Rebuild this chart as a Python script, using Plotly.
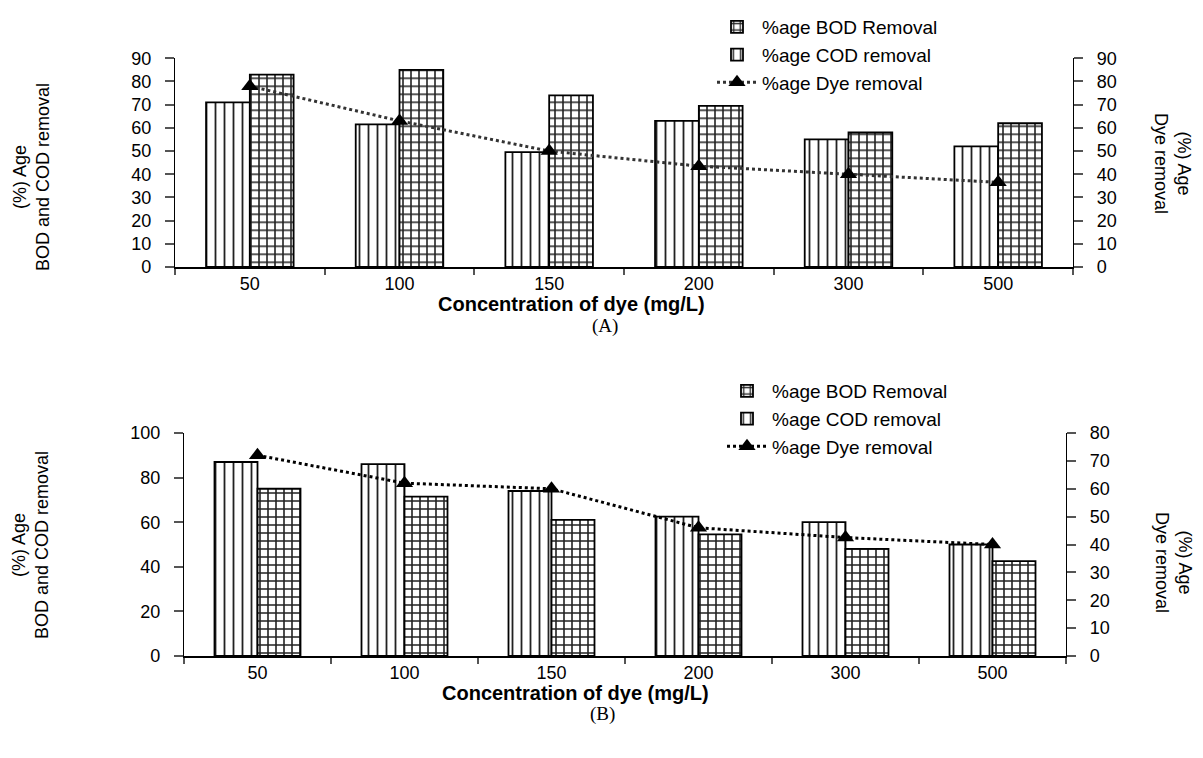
import plotly.graph_objects as go

# ---------------- data ----------------
conc = ["50", "100", "150", "200", "300", "500"]

# Panel (A)
a_cod = [71, 61.5, 49.5, 63, 55, 52]
a_bod = [83, 85, 74, 69.5, 58, 62]
a_dye = [78, 63, 50, 43.5, 40, 36.5]

# Panel (B)
b_cod = [87, 86, 74, 62.5, 60, 50]
b_bod = [75, 71.5, 61, 54.5, 48, 42.5]
b_dye = [72, 62, 60, 46, 42.5, 40]

names = ["%age BOD Removal", "%age COD removal", "%age Dye removal"]

FONT = "Arial, Liberation Sans, sans-serif"
# the page body has an 8px margin; size the figure so the page fills the window
OFF = 8
W, H = 1203 - 2 * OFF, 758 - 2 * OFF


def px_x(p):
    return (p - OFF) / W


def px_y(p):
    return 1 - (p - OFF) / H


cod_pattern = dict(shape="|", fgcolor="#222", bgcolor="white", size=9, solidity=0.2)
bod_pattern = dict(shape="+", fgcolor="#222", bgcolor="white", size=8, solidity=0.36)

fig = go.Figure()

# ---- Panel A ----
fig.add_trace(go.Bar(x=conc, y=a_cod, name=names[1], xaxis="x", yaxis="y",
                     marker=dict(color="white", line=dict(color="black", width=1.8), pattern=cod_pattern),
                     legend="legend", legendrank=2))
fig.add_trace(go.Bar(x=conc, y=a_bod, name=names[0], xaxis="x", yaxis="y",
                     marker=dict(color="white", line=dict(color="black", width=1.8), pattern=bod_pattern),
                     legend="legend", legendrank=1))
fig.add_trace(go.Scatter(x=conc, y=a_dye, name=names[2], xaxis="x", yaxis="y2", mode="lines+markers",
                         line=dict(color="#333", width=3, dash="dot"),
                         marker=dict(symbol="triangle-up", size=15, color="black"),
                         legend="legend", legendrank=3))

# ---- Panel B ----
fig.add_trace(go.Bar(x=conc, y=b_cod, name=names[1], xaxis="x2", yaxis="y3",
                     marker=dict(color="white", line=dict(color="black", width=1.8), pattern=cod_pattern),
                     legend="legend2", legendrank=2))
fig.add_trace(go.Bar(x=conc, y=b_bod, name=names[0], xaxis="x2", yaxis="y3",
                     marker=dict(color="white", line=dict(color="black", width=1.8), pattern=bod_pattern),
                     legend="legend2", legendrank=1))
fig.add_trace(go.Scatter(x=conc, y=b_dye, name=names[2], xaxis="x2", yaxis="y4", mode="lines+markers",
                         line=dict(color="black", width=3, dash="dot"),
                         marker=dict(symbol="triangle-up", size=15, color="black"),
                         legend="legend2", legendrank=3))

tickfont = dict(family=FONT, size=18, color="black")
common_y = dict(showline=True, linecolor="black", linewidth=1.2, ticks="outside", ticklen=9,
                tickcolor="#555", tickwidth=1.5, showgrid=False, zeroline=False, tickfont=tickfont,
                ticklabelstandoff=10, automargin=False)
common_x = dict(type="category", showline=True, linecolor="black", linewidth=1.5, ticks="outside",
                ticklen=6, tickcolor="#555", tickwidth=1.5, tickson="boundaries", showgrid=False,
                zeroline=False, tickfont=tickfont, ticklabelstandoff=0, automargin=False)

fig.update_layout(
    template="none",
    width=W, height=H,
    margin=dict(l=0, r=0, t=0, b=0, pad=0),
    paper_bgcolor="white", plot_bgcolor="white",
    barmode="group", bargap=0.415, bargroupgap=0,
    font=dict(family=FONT, size=18, color="black"),
    xaxis=dict(domain=[px_x(175), px_x(1073)], anchor="y", **common_x),
    yaxis=dict(domain=[px_y(267), px_y(58.3)], anchor="x", range=[0, 90], dtick=10, **common_y),
    yaxis2=dict(overlaying="y", side="right", anchor="x", range=[0, 90], dtick=10, **common_y),
    xaxis2=dict(domain=[px_x(184), px_x(1066)], anchor="y3", **common_x),
    yaxis3=dict(domain=[px_y(656), px_y(433)], anchor="x2", range=[0, 100], dtick=20, **common_y),
    yaxis4=dict(overlaying="y3", side="right", anchor="x2", range=[0, 80], dtick=10, **common_y),
    legend=dict(x=px_x(712), y=px_y(8), xanchor="left", yanchor="top", font=dict(family=FONT, size=19),
                tracegroupgap=0, itemwidth=40, bgcolor="rgba(0,0,0,0)", borderwidth=0),
    legend2=dict(x=px_x(722), y=px_y(372), xanchor="left", yanchor="top", font=dict(family=FONT, size=19),
                 tracegroupgap=0, itemwidth=40, bgcolor="rgba(0,0,0,0)", borderwidth=0),
)

ann = []
# axis titles
ann.append(dict(text="(%) Age<br>BOD and COD removal", x=px_x(31), y=px_y(177), textangle=-90))
ann.append(dict(text="(%) Age<br>Dye removal", x=px_x(1173), y=px_y(163), textangle=90))
ann.append(dict(text="(%) Age<br>BOD and COD removal", x=px_x(30), y=px_y(545), textangle=-90))
ann.append(dict(text="(%) Age<br>Dye removal", x=px_x(1174), y=px_y(562), textangle=90))
ann.append(dict(text="<b>Concentration of dye (mg/L)</b>", x=px_x(571), y=px_y(304), font=dict(size=20)))
ann.append(dict(text="<b>Concentration of dye (mg/L)</b>", x=px_x(575), y=px_y(693), font=dict(size=20)))
ann.append(dict(text="(A)", x=px_x(605), y=px_y(326), font=dict(family="Liberation Serif, Times New Roman, serif", size=19)))
ann.append(dict(text="(B)", x=px_x(603), y=px_y(714), font=dict(family="Liberation Serif, Times New Roman, serif", size=19)))

for a in ann:
    base = dict(xref="paper", yref="paper", showarrow=False, xanchor="center", yanchor="middle",
                font=dict(family=FONT, size=18, color="black"))
    f = a.pop("font", None)
    if f:
        base["font"].update(f)
    base.update(a)
    fig.add_annotation(**base)

fig.write_html("out.html")
